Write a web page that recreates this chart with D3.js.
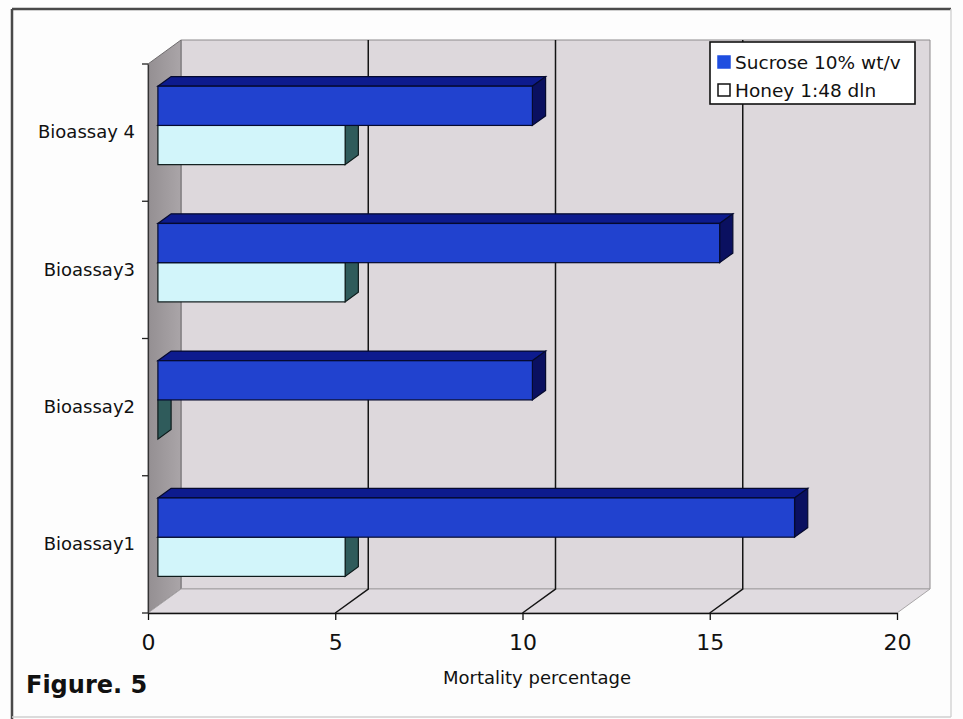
<!DOCTYPE html>
<html>
<head>
<meta charset="utf-8">
<script src="https://cdn.jsdelivr.net/npm/d3@7"></script>
<style>
  html, body { margin: 0; padding: 0; background: #ffffff; }
  svg { display: block; }
  text { font-family: "DejaVu Sans", sans-serif; fill: #111; }
</style>
</head>
<body>
<svg id="chart" width="963" height="719"></svg>
<script>
// Mortality data per bioassay (bottom to top)
const categories = ["Bioassay1", "Bioassay2", "Bioassay3", "Bioassay 4"];
const sucroseValues = [17, 10, 15, 10];
const honeyValues = [5, 0, 5, 5];
const seriesNames = ["Sucrose 10% wt/v", "Honey 1:48 dln"];
const xTickValues = [0, 5, 10, 15, 20];
const xTitle = "Mortality percentage";
const figureLabel = "Figure. 5";

const svg = d3.select("#chart");

// Front plane geometry and 3-D depth offset of the plot box
const xFront = d3.scaleLinear().domain([0, 20]).range([148, 897]);
const yTopFront = 64, yBottomFront = 613;
const DX = 33, DY = -24;

const y = d3.scaleBand().domain(categories).range([yBottomFront, yTopFront]);
const series = d3.scaleBand().domain(["sucrose", "honey"])
  .range([0, y.bandwidth()]).paddingInner(0).paddingOuter(0.75);

// Bars sit in the middle of the depth
const OX = DX * 0.3, OY = DY * 0.3;
const BDX = DX * 0.4, BDY = DY * 0.4;

// Outer figure frame
svg.append("rect").attr("x", 0).attr("y", 0).attr("width", 963).attr("height", 719).attr("fill", "#fdfdfd");
svg.append("line").attr("x1", 12).attr("y1", 9).attr("x2", 951).attr("y2", 9)
  .attr("stroke", "#4a4a4a").attr("stroke-width", 2.5);
svg.append("line").attr("x1", 12).attr("y1", 9).attr("x2", 12).attr("y2", 719)
  .attr("stroke", "#4a4a4a").attr("stroke-width", 2.5);
svg.append("line").attr("x1", 951).attr("y1", 9).attr("x2", 951).attr("y2", 717)
  .attr("stroke", "#d4d4d4").attr("stroke-width", 1.5);
svg.append("line").attr("x1", 12).attr("y1", 717).attr("x2", 951).attr("y2", 717)
  .attr("stroke", "#cfcfcf").attr("stroke-width", 1.5);

const x0 = xFront(0), x20 = xFront(20);
const poly = pts => pts.map(p => p.join(",")).join(" ");

// Walls and floor
svg.append("polygon")
  .attr("points", poly([[x0 + DX, yTopFront + DY], [x20 + DX, yTopFront + DY], [x20 + DX, yBottomFront + DY], [x0 + DX, yBottomFront + DY]]))
  .attr("fill", "#ddd8dc").attr("stroke", "#8d8a8c").attr("stroke-width", 1);

const defs = svg.append("defs");
const lg = defs.append("linearGradient").attr("id", "leftWall").attr("x1", 0).attr("x2", 1).attr("y1", 0).attr("y2", 0);
lg.append("stop").attr("offset", 0).attr("stop-color", "#948f92");
lg.append("stop").attr("offset", 1).attr("stop-color", "#aaa5a8");

svg.append("polygon")
  .attr("points", poly([[x0, yTopFront], [x0 + DX, yTopFront + DY], [x0 + DX, yBottomFront + DY], [x0, yBottomFront]]))
  .attr("fill", "url(#leftWall)").attr("stroke", "#6f6c6e").attr("stroke-width", 1);

svg.append("polygon")
  .attr("points", poly([[x0, yBottomFront], [x20, yBottomFront], [x20 + DX, yBottomFront + DY], [x0 + DX, yBottomFront + DY]]))
  .attr("fill", "#e0dbe0").attr("stroke", "#a9a6a8").attr("stroke-width", 1);

// Gridlines on back wall and floor
const gridVals = xTickValues.filter(v => v > 0 && v < 20);
svg.append("g").selectAll("polyline").data(gridVals).join("polyline")
  .attr("points", d => poly([[xFront(d) + DX, yTopFront + DY], [xFront(d) + DX, yBottomFront + DY], [xFront(d), yBottomFront]]))
  .attr("fill", "none").attr("stroke", "#141414").attr("stroke-width", 1.5);

// Bars
function drawBar(g, value, yTop, h, c) {
  const xl = xFront(0) + OX, xr = xFront(value) + OX;
  const yt = yTop + OY, yb = yTop + h + OY;
  g.append("polygon")
    .attr("points", poly([[xl, yt], [xr, yt], [xr + BDX, yt + BDY], [xl + BDX, yt + BDY]]))
    .attr("fill", c.top).attr("stroke", c.line).attr("stroke-width", 1.2);
  g.append("polygon")
    .attr("points", poly([[xr, yt], [xr + BDX, yt + BDY], [xr + BDX, yb + BDY], [xr, yb]]))
    .attr("fill", c.side).attr("stroke", c.line).attr("stroke-width", 1.2);
  g.append("rect")
    .attr("x", xl).attr("y", yt).attr("width", Math.max(0, xr - xl)).attr("height", h)
    .attr("fill", c.front).attr("stroke", c.line).attr("stroke-width", 1.2);
}

const sucroseColors = { front: "#2142cf", top: "#0d1b8e", side: "#0a1060", line: "#050a2e" };
const honeyColors = { front: "#d2f5fa", top: "#9fc9cc", side: "#2f5b5b", line: "#0d1a1a" };

const barsG = svg.append("g");
categories.slice().reverse().forEach((cat) => {
  const i = categories.indexOf(cat);
  const base = y(cat);
  drawBar(barsG, honeyValues[i], base + series("honey"), series.bandwidth(), honeyColors);
  drawBar(barsG, sucroseValues[i], base + series("sucrose"), series.bandwidth(), sucroseColors);
});

// X axis
const xAxis = d3.axisBottom(xFront).tickValues(xTickValues).tickSize(7).tickPadding(14).tickSizeOuter(0);
const gx = svg.append("g").attr("transform", `translate(0,${yBottomFront})`).call(xAxis);
gx.select(".domain").attr("stroke", "#111").attr("stroke-width", 1.5);
gx.selectAll(".tick line").attr("stroke", "#111").attr("stroke-width", 1.3);
gx.selectAll(".tick text").attr("font-size", 22).attr("font-family", "DejaVu Sans").attr("fill", "#111");

// Y axis: labels at band centres, ticks at band boundaries
const yAxis = d3.axisLeft(y).tickSize(0).tickPadding(13).tickSizeOuter(0);
const gy = svg.append("g").attr("transform", `translate(${x0},0)`).call(yAxis);
gy.select(".domain").attr("stroke", "#333").attr("stroke-width", 1.2);
gy.selectAll(".tick text").attr("font-size", 18).attr("font-family", "DejaVu Sans").attr("fill", "#111");

const bounds = categories.map(c => y(c) + y.bandwidth()).concat([y(categories[categories.length - 1])]);
svg.append("g").selectAll("line").data(bounds).join("line")
  .attr("x1", x0 - 6).attr("x2", x0).attr("y1", d => d).attr("y2", d => d)
  .attr("stroke", "#222").attr("stroke-width", 1.3);

// Axis title
svg.append("text").attr("x", 537).attr("y", 684).attr("text-anchor", "middle")
  .attr("font-size", 18).text(xTitle);

// Figure label
svg.append("text").attr("x", 26).attr("y", 693)
  .attr("font-size", 24).attr("font-weight", "bold").text(figureLabel);

// Legend
const legend = svg.append("g").attr("transform", "translate(710,42)");
legend.append("rect").attr("width", 205).attr("height", 62)
  .attr("fill", "#ffffff").attr("stroke", "#111").attr("stroke-width", 1.6);
const legendItems = [
  { name: seriesNames[0], fill: "#1f4ee0", stroke: "#1f4ee0" },
  { name: seriesNames[1], fill: "#ffffff", stroke: "#111" }
];
const li = legend.selectAll("g.item").data(legendItems).join("g")
  .attr("class", "item").attr("transform", (d, i) => `translate(0,${20 + i * 28})`);
li.append("rect").attr("x", 8).attr("y", -6).attr("width", 12).attr("height", 12)
  .attr("fill", d => d.fill).attr("stroke", d => d.stroke).attr("stroke-width", 1.5);
li.append("text").attr("x", 25).attr("y", 0).attr("dy", "0.36em")
  .attr("font-size", 18.5).text(d => d.name);
</script>
</body>
</html>
